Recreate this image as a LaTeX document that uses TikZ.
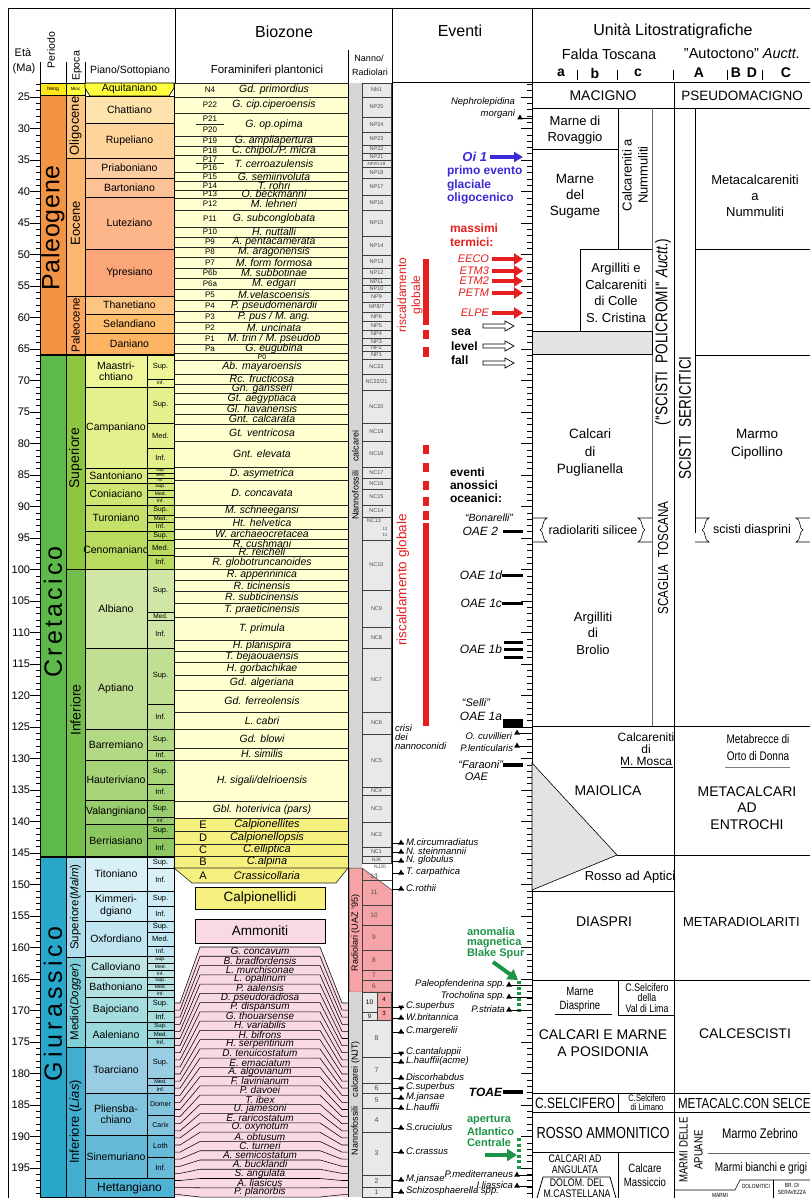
\documentclass[tikz,border=0pt]{standalone}
\usepackage{fontspec}
\setmainfont{Liberation Sans}
\newfontfamily\narrowf[FakeStretch=0.8]{Liberation Sans}
\usetikzlibrary{arrows.meta}
\newcommand\myfs[1]{\fontsize{#1}{#1}\selectfont}
\newcommand\myfsl[2]{\fontsize{#1}{#2}\selectfont}
\definecolor{cPg}{HTML}{F39445}
\definecolor{cNg}{HTML}{FFE619}
\definecolor{cOli}{HTML}{FDC582}
\definecolor{cEoc}{HTML}{FDB66E}
\definecolor{cPal}{HTML}{FDA760}
\definecolor{cAqu}{HTML}{FFFF40}
\definecolor{cCha}{HTML}{FEE3AD}
\definecolor{cRup}{HTML}{FED49C}
\definecolor{cPri}{HTML}{FDCDA1}
\definecolor{cBar}{HTML}{FCC195}
\definecolor{cLut}{HTML}{FCB68A}
\definecolor{cYpr}{HTML}{FBA679}
\definecolor{cTha}{HTML}{FDC482}
\definecolor{cSel}{HTML}{FEBE6E}
\definecolor{cDan}{HTML}{FDB462}
\definecolor{cK}{HTML}{5CB94A}
\definecolor{cKs}{HTML}{8DC741}
\definecolor{cKi}{HTML}{74BF4B}
\definecolor{cMaa}{HTML}{EEF698}
\definecolor{cCam}{HTML}{E4F08C}
\definecolor{cSan}{HTML}{DAEB80}
\definecolor{cCon}{HTML}{D0E674}
\definecolor{cTur}{HTML}{C5E169}
\definecolor{cCen}{HTML}{B9DB5F}
\definecolor{cAlb}{HTML}{CFE6A4}
\definecolor{cApt}{HTML}{C1DF93}
\definecolor{cBrm}{HTML}{B4D985}
\definecolor{cHau}{HTML}{A7D379}
\definecolor{cVal}{HTML}{9ACD6D}
\definecolor{cBer}{HTML}{8CC762}
\definecolor{cJ}{HTML}{29A7CB}
\definecolor{cJs}{HTML}{AEDDEB}
\definecolor{cJm}{HTML}{7ECFD8}
\definecolor{cJi}{HTML}{43AED0}
\definecolor{cTit}{HTML}{DAF0F7}
\definecolor{cKim}{HTML}{CDEBF4}
\definecolor{cOxf}{HTML}{BFE6F1}
\definecolor{cCal}{HTML}{BFE6E4}
\definecolor{cBat}{HTML}{B2E1E1}
\definecolor{cBaj}{HTML}{A6DDDF}
\definecolor{cAal}{HTML}{99D8DC}
\definecolor{cToa}{HTML}{99CDE3}
\definecolor{cPli}{HTML}{80C4DD}
\definecolor{cSin}{HTML}{67BBD8}
\definecolor{cHet}{HTML}{4EB3D3}
\definecolor{cFor}{HTML}{FFFFCF}
\definecolor{cCalp}{HTML}{F6F07E}
\definecolor{cAmm}{HTML}{FADAE2}
\definecolor{cNan}{HTML}{E9E9E9}
\definecolor{cStrip}{HTML}{D6D6D6}
\definecolor{cRad}{HTML}{F5A3A6}
\definecolor{cRed}{HTML}{E3201F}
\definecolor{cBlue}{HTML}{3B2BD6}
\definecolor{cGreen}{HTML}{1E9447}
\definecolor{cGray}{HTML}{E3E3E3}
\tikzset{
  every node/.style={inner sep=0pt,outer sep=0pt},
  bx/.style={draw=black,line width=0.6pt},
  zl/.style={draw=black!85,line width=0.6pt},
  stgt/.style={font=\myfsl{10.5}{11.5},align=center},
  codet/.style={font=\myfs{8}},
  spt/.style={font=\myfs{10.5}\itshape},
  ammt/.style={font=\myfs{10}\itshape},
  evt/.style={font=\myfs{9.5}\itshape},
  lit/.style={font=\myfsl{13}{16},align=center},
  redarr/.style={draw=cRed,line width=4pt,-{Triangle[length=9pt,width=11pt]}},
  grnarr/.style={draw=cGreen,line width=4pt,-{Triangle[length=10pt,width=12pt]}},
  bluarr/.style={draw=cBlue,line width=3.5pt,-{Triangle[length=9pt,width=10pt]}},
  grndot/.style={draw=cGreen,line width=3.5pt,dash pattern=on 3pt off 2.5pt},
}
\newcommand\stg[5]{\filldraw[fill=#3,bx] (85,#1) rectangle (#5,#2); \node[stgt] at ({(85+#5)/2},{(#1+#2)/2}) {#4};}
\newcommand\sbd[5][7.5]{\filldraw[fill=#4,bx] (147,#2) rectangle (174,#3); \node[font=\myfs{#1}] at (160.5,{(#2+#3)/2}) {#5};}
\newcommand\fzc[4]{\draw[zl] (174,#2) -- (348,#2); \node[codet] at (210,{(#1+#2)/2}) {#3}; \node[spt] at (274,{(#1+#2)/2}) {#4};}
\newcommand\fzk[3]{\draw[zl] (174,#2) -- (348,#2); \node[spt] at (262,{(#1+#2)/2}) {#3};}
\newcommand\nb[4][5.5]{\filldraw[fill=cNan,draw=black!75,line width=0.5pt] (362,#2) rectangle (391,#3); \node[font=\myfs{#1},text=black!70] at (376.5,{(#2+#3)/2}) {#4};}
\newcommand\trup[2]{\fill (#1-2.8,#2+1.5) -- (#1+2.8,#2+1.5) -- (#1,#2-3.5) -- cycle;}
\newcommand\trdn[2]{\fill (#1-2.8,#2-1.5) -- (#1+2.8,#2-1.5) -- (#1,#2+3.5) -- cycle;}
\newcommand\lmark[2]{\draw[line width=0.7pt] (392,#1) -- (404,#1); \trup{401}{#1} \node[evt,anchor=west] at (406,#1-1) {#2};}
\newcommand\lmarkd[2]{\draw[line width=0.7pt] (392,#1) -- (404,#1); \trdn{401}{#1} \node[evt,anchor=west] at (406,#1-1) {#2};}
\newcommand\rmark[3]{\draw[line width=0.7pt] (#1,#2) -- (532,#2); \trup{#1}{#2} \node[evt,anchor=east] at (#1-4,#2-1) {#3};}
\newcommand\harrow[3]{\draw[line width=0.7pt,fill=white] (#1,#3-2) -- (#2-9,#3-2) -- (#2-9,#3-5) -- (#2,#3) -- (#2-9,#3+5) -- (#2-9,#3+2) -- (#1,#3+2) -- cycle;}
\begin{document}
\begin{tikzpicture}[x=1pt,y=-1pt]
\useasboundingbox (0,0) rectangle (810,1198);
\fill[white] (0,0) rectangle (810,1198);

% ---------------- header ----------------
\draw[line width=0.8pt] (8,1198) -- (8,8) -- (810,8);
\draw[line width=0.8pt] (175,8) -- (175,83);
\draw[line width=0.6pt] (40,62) -- (40,83);
\draw[line width=0.6pt] (66,62) -- (66,83);
\draw[line width=0.6pt] (85,62) -- (85,83);
\draw[line width=0.6pt] (348,50) -- (348,83);
\draw[line width=0.8pt] (392,82) -- (810,82);
\node[font=\myfs{11}] (eta) at (23,53) {Età};
\node[font=\myfs{11}] (ma) at (24,69) {(Ma)};
\node[font=\myfs{10.5},rotate=90] (per) at (51,50) {Periodo};
\node[font=\myfs{10.5},rotate=90] (epo) at (77,66) {Epoca};
\node[font=\myfs{10.5}] (pia) at (130,71) {Piano/Sottopiano};
\node[font=\myfs{16}] (bio) at (284,32) {Biozone};
\node[font=\myfs{11.5}] (fora) at (267,71) {Foraminiferi plantonici};
\node[font=\myfs{9}] (nan1) at (369,58) {Nanno/};
\node[font=\myfs{9}] (nan2) at (370,72) {Radiolari};
\node[font=\myfs{16}] (eve) at (460,31) {Eventi};
\node[font=\myfs{16}] (uni) at (673,31) {Unità Litostratigrafiche};
\node[font=\myfs{14.5}] (fal) at (609,54) {Falda Toscana};
\node[font=\myfs{14.5}] (aut) at (742,54) {''Autoctono'' \textit{Auctt.}};
\node[font=\bfseries\myfs{14}] at (561,73) {a};
\node[font=\bfseries\myfs{14}] at (595,73) {b};
\node[font=\bfseries\myfs{14}] at (638,73) {c};
\node[font=\bfseries\myfs{14}] at (699,73) {A};
\node[font=\bfseries\myfs{14}] at (736,73) {B};
\node[font=\bfseries\myfs{14}] at (752,73) {D};
\node[font=\bfseries\myfs{14}] at (786,73) {C};
\foreach \xx in {577,617,673,727,762} {\draw[line width=0.7pt] (\xx,70) -- (\xx,80);}

% ---------------- age axis ----------------
\foreach \a in {23,...,199} {\pgfmathsetmacro\yy{97+(\a-25)*6.3}
  \draw[line width=0.5pt] (36,\yy) -- (40,\yy);
  \draw[line width=0.5pt] (527,\yy) -- (532,\yy);}
\foreach \a in {25,30,...,195} {\pgfmathsetmacro\yy{97+(\a-25)*6.3}
  \draw[line width=0.8pt] (30,\yy) -- (40,\yy);
  \draw[line width=0.8pt] (521,\yy) -- (532,\yy);
  \node[anchor=east,font=\myfs{11}] at (30,\yy) {\a};}

% ---------------- periods & epochs ----------------
\filldraw[fill=cNg,bx] (40,83) rectangle (66,95); \node[font=\myfs{5}] at (53,89) {Neog};
\filldraw[fill=cPg,bx] (40,95) rectangle (66,355); \node[rotate=90,font=\myfs{25}\addfontfeatures{LetterSpace=3}] at (53,228) {Paleogene};
\filldraw[fill=cK,bx] (40,355) rectangle (66,857); \node[rotate=90,font=\myfs{25}\addfontfeatures{LetterSpace=13}] at (53,612) {Cretacico};
\filldraw[fill=cJ,bx] (40,857) rectangle (66,1197); \node[rotate=90,font=\myfs{25}\addfontfeatures{LetterSpace=16}] at (53,1004) {Giurassico};
\filldraw[fill=cAqu,bx] (66,83) rectangle (85,95); \node[font=\myfs{4.5}] at (75.5,89) {Mioc};
\filldraw[fill=cOli,bx] (66,95) rectangle (85,158); \node[rotate=90,font=\myfs{13}] at (75.5,126) {Oligocene};
\filldraw[fill=cEoc,bx] (66,158) rectangle (85,296); \node[rotate=90,font=\myfs{13}] at (75.5,223) {Eocene};
\filldraw[fill=cPal,bx] (66,296) rectangle (85,355); \node[rotate=90,font=\myfs{11.5}] at (75.5,325) {Paleocene};
\filldraw[fill=cKs,bx] (66,355) rectangle (85,569); \node[rotate=90,font=\myfs{14}] at (75.5,458) {Superiore};
\filldraw[fill=cKi,bx] (66,569) rectangle (85,857); \node[rotate=90,font=\myfs{14}] at (75.5,710) {Inferiore};
\filldraw[fill=cJs,bx] (66,857) rectangle (85,957); \node[rotate=90,font=\myfs{11.5}] at (75.5,907) {Superiore(\textit{Malm})};
\filldraw[fill=cJm,bx] (66,957) rectangle (85,1047); \node[rotate=90,font=\myfs{11.5}] at (75.5,1002) {Medio(\textit{Dogger})};
\filldraw[fill=cJi,bx] (66,1047) rectangle (85,1197); \node[rotate=90,font=\myfs{13}] at (75.5,1122) {Inferiore (\textit{Lias})};

% ---------------- stages ----------------
\filldraw[fill=cAqu,bx] (85,83) -- (174,83) -- (174,88) -- (169,96) -- (90,96) -- (85,88) -- cycle;
\node[font=\myfs{10.5}] at (129.5,89) {Aquitaniano};
\stg{96}{123}{cCha}{Chattiano}{174}
\stg{123}{158}{cRup}{Rupeliano}{174}
\stg{158}{178}{cPri}{Priaboniano}{174}
\stg{178}{197}{cBar}{Bartoniano}{174}
\stg{197}{249}{cLut}{Luteziano}{174}
\stg{249}{296}{cYpr}{Ypresiano}{174}
\stg{296}{314}{cTha}{Thanetiano}{174}
\stg{314}{333}{cSel}{Selandiano}{174}
\stg{333}{355}{cDan}{Daniano}{174}
\stg{355}{387}{cMaa}{Maastri-\\chtiano}{147}
\sbd{355}{379}{cMaa}{Sup.} \sbd[5]{379}{387}{cMaa}{Inf.}
\stg{387}{468}{cCam}{Campaniano}{147}
\sbd{387}{423}{cCam}{Sup.} \sbd{423}{448}{cCam}{Med.} \sbd{448}{468}{cCam}{Inf.}
\stg{468}{483}{cSan}{Santoniano}{147}
\sbd[4]{468}{473}{cSan}{Sup.} \sbd[4]{473}{478}{cSan}{Med.} \sbd[4]{478}{483}{cSan}{Inf.}
\stg{483}{505}{cCon}{Coniaciano}{147}
\sbd[5]{483}{490}{cCon}{Sup.} \sbd[5]{490}{497}{cCon}{Med.} \sbd[5]{497}{505}{cCon}{Inf.}
\stg{505}{531}{cTur}{Turoniano}{147}
\sbd[7]{505}{515}{cTur}{Sup.} \sbd[6]{515}{522}{cTur}{Med.} \sbd[6.5]{522}{531}{cTur}{Inf.}
\stg{531}{569}{cCen}{Cenomaniano}{147}
\sbd[7]{531}{540}{cCen}{Sup.} \sbd{540}{555}{cCen}{Med.} \sbd{555}{569}{cCen}{Inf.}
\stg{569}{648}{cAlb}{Albiano}{147}
\sbd{569}{612}{cAlb}{Sup.} \sbd[6.5]{612}{620}{cAlb}{Med.} \sbd{620}{648}{cAlb}{Inf.}
\stg{648}{729}{cApt}{Aptiano}{147}
\sbd{648}{704}{cApt}{Sup.} \sbd{704}{729}{cApt}{Inf.}
\stg{729}{760}{cBrm}{Barremiano}{147}
\sbd{729}{750}{cBrm}{Sup.} \sbd[7]{750}{760}{cBrm}{Inf.}
\stg{760}{800}{cHau}{Hauteriviano}{147}
\sbd{760}{784}{cHau}{Sup.} \sbd{784}{800}{cHau}{Inf.}
\stg{800}{824}{cVal}{Valanginiano}{147}
\sbd{800}{817}{cVal}{Sup.} \sbd[5]{817}{824}{cVal}{Inf.}
\stg{824}{857}{cBer}{Berriasiano}{147}
\sbd{824}{838}{cBer}{Sup.} \sbd{838}{857}{cBer}{Inf.}
\stg{857}{891}{cTit}{Titoniano}{147}
\sbd{857}{868}{cTit}{Sup.} \sbd{868}{891}{cTit}{Inf.}
\stg{891}{921}{cKim}{Kimmeri-\\dgiano}{147}
\sbd{891}{906}{cKim}{Sup.} \sbd{906}{921}{cKim}{Inf.}
\stg{921}{956}{cOxf}{Oxfordiano}{147}
\sbd{921}{932}{cOxf}{Sup.} \sbd{932}{946}{cOxf}{Med.} \sbd[6.5]{946}{956}{cOxf}{Inf.}
\stg{956}{977}{cCal}{Calloviano}{147}
\sbd[5]{956}{963}{cCal}{Sup.} \sbd[5]{963}{970}{cCal}{Med.} \sbd[5]{970}{977}{cCal}{Inf.}
\stg{977}{997}{cBat}{Bathoniano}{147}
\sbd[5]{977}{984}{cBat}{Sup.} \sbd[5]{984}{990}{cBat}{Med.} \sbd[5]{990}{997}{cBat}{Inf.}
\stg{997}{1022}{cBaj}{Bajociano}{147}
\sbd{997}{1011}{cBaj}{Sup.} \sbd{1011}{1022}{cBaj}{Inf.}
\stg{1022}{1047}{cAal}{Aaleniano}{147}
\sbd[6]{1022}{1030}{cAal}{Sup.} \sbd[6]{1030}{1038}{cAal}{Med.} \sbd[6]{1038}{1047}{cAal}{Inf.}
\stg{1047}{1093}{cToa}{Toarciano}{147}
\sbd{1047}{1078}{cToa}{Sup.} \sbd[5.5]{1078}{1085}{cToa}{Med.} \sbd[5.5]{1085}{1093}{cToa}{Inf.}
\stg{1093}{1135}{cPli}{Pliensba-\\chiano}{147}
\sbd[7]{1093}{1115}{cPli}{Domer} \sbd[7]{1115}{1135}{cPli}{Carix}
\stg{1135}{1178}{cSin}{Sinemuriano}{147}
\sbd{1135}{1157}{cSin}{Loth} \sbd{1157}{1178}{cSin}{Inf.}
\filldraw[fill=cHet,bx] (85,1178) rectangle (174,1197);
\node[font=\myfs{12}] at (129.5,1188) {Hettangiano};
\draw[line width=1.3pt] (40,355) -- (174,355);
\draw[line width=1.3pt] (40,857) -- (174,857);

% ---------------- foram biozones ----------------
\fill[cFor] (174,83) rectangle (348,818);
\draw[zl] (174,83) -- (348,83);
\fzc{83}{97}{N4}{Gd. primordius}
\fzc{97}{113}{P22}{G. cip.ciperoensis}
\fzc{113}{136}{}{G. op.opima}
\node[codet] at (210,118.5) {P21}; \node[codet] at (210,130) {P20}; \draw[zl] (196,124) -- (224,124);
\fzc{136}{146}{P19}{G. ampliapertura}
\fzc{146}{155}{P18}{C. chipol./P. micra}
\fzc{155}{172}{}{T. cerroazulensis}
\node[codet] at (210,159.5) {P17}; \node[codet] at (210,167.5) {P16}; \draw[zl] (196,163.5) -- (224,163.5);
\fzc{172}{181}{P15}{G. semiinvoluta}
\fzc{181}{190}{P14}{T. rohri}
\fzc{190}{198}{P13}{O. beckmanni}
\fzc{198}{210}{P12}{M. lehneri}
\fzc{210}{227}{P11}{G. subconglobata}
\fzc{227}{237}{P10}{H. nuttalli}
\fzc{237}{247}{P9}{A. pentacamerata}
\fzc{247}{257}{P8}{M. aragonensis}
\fzc{257}{268}{P7}{M. form formosa}
\fzc{268}{278}{P6b}{M. subbotinae}
\fzc{278}{289}{P6a}{M. edgari}
\fzc{289}{300}{P5}{M.velascoensis}
\fzc{300}{311}{P4}{P. pseudomenardii}
\fzc{311}{322}{P3}{P. pus / M. ang.}
\fzc{322}{333}{P2}{M. uncinata}
\fzc{333}{344}{P1}{M. trin / M. pseudob}
\fzc{344}{353}{Pa}{G. eugubina}
\draw[zl] (174,360) -- (348,360); \node[font=\myfs{7}] at (262,357) {P0};
\fzk{360}{374}{Ab. mayaroensis}
\fzk{374}{384}{Rc. fructicosa}
\fzk{384}{393}{Gn. gansseri}
\fzk{393}{404}{Gt. aegyptiaca}
\fzk{404}{414}{Gl. havanensis}
\fzk{414}{424}{Gnt. calcarata}
\fzk{424}{441}{Gt. ventricosa}
\fzk{441}{467}{Gnt. elevata}
\fzk{467}{480}{D. asymetrica}
\fzk{480}{505}{D. concavata}
\fzk{505}{517}{M. schneegansi}
\fzk{517}{529}{Ht. helvetica}
\fzk{529}{539}{W. archaeocretacea}
\fzk{539}{548}{R. cushmani}
\fzk{548}{556}{R. reicheli}
\fzk{556}{569}{R. globotruncanoides}
\fzk{569}{580}{R. appenninica}
\fzk{580}{591}{R. ticinensis}
\fzk{591}{603}{R. subticinensis}
\fzk{603}{617}{T. praeticinensis}
\fzk{617}{640}{T. primula}
\fzk{640}{651}{H. planispira}
\fzk{651}{662}{T. bejaouaensis}
\fzk{662}{675}{H. gorbachikae}
\fzk{675}{690}{Gd. algeriana}
\fzk{690}{712}{Gd. ferreolensis}
\fzk{712}{729}{L. cabri}
\fzk{729}{748}{Gd. blowi}
\fzk{748}{760}{H. similis}
\fzk{760}{801}{H. sigali/delrioensis}
\fzk{801}{818}{Gbl. hoterivica (pars)}
% calpionellids
\filldraw[fill=cCalp,zl] (174,818) rectangle (348,868);
\filldraw[fill=cCalp,zl] (174,868) -- (348,868) -- (336,883) -- (192,883) -- cycle;
\foreach \yy in {831,844,856} {\draw[zl] (174,\yy) -- (348,\yy);}
\foreach \yy/\l/\s in {824.5/E/Calpionellites,837.5/D/Calpionellopsis,850/C/C.elliptica,862/B/C.alpina,875.5/A/Crassicollaria}
  {\node[font=\myfs{11}] at (203,\yy) {\l}; \node[font=\myfs{11}\itshape] at (267,\yy) {\s};}
\filldraw[fill=cCalp,bx] (195,887) rectangle (325,909); \node[font=\myfs{13.5}] at (260,898) {Calpionellidi};
\filldraw[fill=cAmm,bx] (195,919) rectangle (325,943); \node[font=\myfs{13.5}] at (260,931) {Ammoniti};
% ammonites
\fill[cAmm] (174,1003) -- (180,1003) -- (200,947) -- (320,947) -- (342,1003) -- (348,1003) -- (348,1197) -- (174,1197) -- cycle;
\foreach \i in {0,...,27} {\pgfmathsetmacro\yc{947+\i*9.26}\pgfmathsetmacro\ye{1003+\i*7.1}
  \draw[line width=0.55pt] (174,\ye) -- (180,\ye) -- (200,\yc) -- (320,\yc) -- (342,\ye) -- (348,\ye);}
\foreach \n [count=\i from 0] in {G. concavum,B. bradfordensis,L. murchisonae,L. opalinum,P. aalensis,D. pseudoradiosa,P. dispansum,G. thouarsense,H. variabilis,H. bifrons,H. serpentinum,D. tenuicostatum,E. emaciatum,A. algovianum,F. lavinianum,P. davoei,T. ibex,U. jamesoni,E. raricostatum,O. oxynotum,A. obtusum,C. turneri,A. semicostatum,A. bucklandi,S. angulata,A. liasicus,P. planorbis}
  {\pgfmathsetmacro\yc{947+\i*9.26+4.3}\node[ammt] at (260,\yc) {\n};}
\draw[line width=0.8pt] (174,83) -- (174,1197);
\draw[line width=0.8pt] (348,83) -- (348,1197);

% ---------------- nanno / radiolari ----------------
\fill[cStrip] (349,83) rectangle (362,868);
\node[rotate=90,font=\myfs{9}] at (355.5,475) {Nannofossili\quad calcarei};
\nb{83}{97}{NN1} \nb{97}{117}{NP25} \nb{117}{132}{NP24} \nb{132}{145}{NP23}
\nb{145}{153}{NP22} \nb{153}{160}{NP21} \nb[4.5]{160}{167}{NP20-19} \nb{167}{178}{NP18}
\nb{178}{195}{NP17} \nb{195}{210}{NP16} \nb{210}{236}{NP15} \nb{236}{255}{NP14}
\nb{255}{268}{NP13} \nb{268}{278}{NP12} \nb{278}{285}{NP11} \nb{285}{292}{NP10}
\nb{292}{302}{NP9} \nb{302}{312}{NP8/7} \nb{312}{321}{NP6} \nb{321}{330}{NP5}
\nb{330}{338}{NP4} \nb{338}{345}{NP3} \nb{345}{351}{NP2} \nb{351}{359}{NP1}
\nb{359}{374}{NC23} \nb{374}{390}{NC22/21} \nb{390}{423}{NC20} \nb{423}{441}{NC19}
\nb{441}{467}{NC18} \nb{467}{478}{NC17} \nb{478}{489}{NC16} \nb{489}{505}{NC15}
\nb{505}{517}{NC14} \nb{517}{540}{} \node[font=\myfs{5.5},text=black!70] at (374,521) {NC13};
\node[font=\myfs{4.5},text=black!70] at (385,529) {12}; \node[font=\myfs{4.5},text=black!70] at (385,535) {11};
\nb{540}{590}{NC10} \nb{590}{627}{NC9} \nb{627}{648}{NC8} \nb{648}{712}{NC7}
\nb{712}{734}{NC6} \nb{734}{787}{NC5} \nb{787}{795}{NC4} \nb{795}{822}{NC3}
\nb{822}{847}{NC2} \nb{847}{856}{NC1} \nb[5]{856}{863}{NJK}
\node[font=\myfs{5},text=black!70] at (380,867) {NJ20};
% radiolari
\filldraw[fill=cRad,draw=black!75,line width=0.5pt] (349,868) -- (362,868) -- (392,890) -- (392,992) -- (349,992) -- cycle;
\draw[line width=0.5pt,draw=black!75] (362,868) -- (362,992);
\foreach \yy in {880,905,925,950,970,980} {\draw[line width=0.5pt,draw=black!75] (362,\yy) -- (392,\yy);}
\node[rotate=90,font=\myfs{9}] at (355.5,933) {Radiolari (UAZ '95)};
\foreach \yy/\l in {876/13,892.5/11,915/10,937.5/9,960/8,975/7,986/6} {\node[font=\myfs{6.5},text=black!70] at (374,\yy) {\l};}
% NJT
\fill[cStrip] (349,992) rectangle (362,1197);
\node[rotate=90,font=\myfs{9}] at (355.5,1098) {Nannofossili\quad calcarei (NJT)};
\filldraw[fill=cNan,draw=black!75,line width=0.5pt] (362,992) rectangle (377,1012); \node[font=\myfs{6.5}] at (369.5,1002) {10};
\filldraw[fill=cNan,draw=black!75,line width=0.5pt] (362,1012) rectangle (377,1020); \node[font=\myfs{6}] at (369.5,1016) {9};
\filldraw[fill=cRad,draw=black!75,line width=0.5pt] (377,992) rectangle (391,1007); \node[font=\myfs{6}] at (384,999.5) {4};
\filldraw[fill=cRad,draw=black!75,line width=0.5pt] (377,1007) rectangle (391,1020); \node[font=\myfs{6}] at (384,1013.5) {3};
\nb[7]{1020}{1057}{8} \nb[7]{1057}{1083}{7} \nb[7]{1083}{1093}{6} \nb[7]{1093}{1108}{5}
\nb[7]{1108}{1132}{4} \nb[7]{1132}{1175}{3} \nb[7]{1175}{1187}{2} \nb[7]{1187}{1197}{1}

% ---------------- eventi ----------------
\node[evt,anchor=east] at (515,102) {Nephrolepidina};
\node[evt,anchor=east] at (515,114) {morgani};
\draw[line width=0.7pt] (520,118) -- (532,118); \trup{520}{118}
\node[font=\bfseries\itshape\myfs{13},text=cBlue,anchor=east] at (487,157) {Oi 1};
\draw[bluarr] (490,157) -- (523,157);
\node[font=\bfseries\myfs{12},text=cBlue,anchor=west] at (447,171) {primo evento};
\node[font=\bfseries\myfs{12},text=cBlue,anchor=west] at (447,185) {glaciale};
\node[font=\bfseries\myfs{12},text=cBlue,anchor=west] at (447,198) {oligocenico};
\node[font=\bfseries\myfs{12},text=cRed,anchor=west] at (450,228) {massimi};
\node[font=\bfseries\myfs{12},text=cRed,anchor=west] at (450,242) {termici:};
\foreach \yy/\l in {259/EECO,271/ETM3,281/ETM2,293/PETM,313/ELPE}
  {\node[font=\itshape\myfs{11},text=cRed,anchor=east] at (489,\yy) {\l}; \draw[redarr] (492,\yy) -- (523,\yy);}
\harrow{483}{514}{326} \harrow{483}{514}{346} \harrow{483}{514}{363}
\node[font=\bfseries\myfs{12},anchor=west] at (451,332) {sea};
\node[font=\bfseries\myfs{12},anchor=west] at (451,346) {level};
\node[font=\bfseries\myfs{12},anchor=west] at (451,360) {fall};
\node[rotate=90,font=\myfsl{12}{14},text=cRed,align=center] at (410,295) {riscaldamento\\globale};
\fill[cRed] (423,259) rectangle (429,325);
\fill[cRed] (423,330) rectangle (429,339);
\fill[cRed] (423,347) rectangle (429,357);
\node[rotate=90,font=\myfs{13.5},text=cRed] at (403,580) {riscaldamento globale};
\foreach \ya/\yb in {445/454,463/472,481/490,497/506,511/520} {\fill[cRed] (423,\ya) rectangle (429,\yb);}
\fill[cRed] (423,523) rectangle (429,726);
\node[font=\bfseries\myfs{12},anchor=west] at (450,472) {eventi};
\node[font=\bfseries\myfs{12},anchor=west] at (450,485) {anossici};
\node[font=\bfseries\myfs{12},anchor=west] at (450,498) {oceanici:};
\node[font=\itshape\myfs{10.5},anchor=east] at (513,518) {“Bonarelli”};
\node[font=\itshape\myfs{12},anchor=east] at (498,531) {OAE 2};
\fill (503,529.5) rectangle (523,533);
\node[font=\itshape\myfs{12},anchor=east] at (502,575) {OAE 1d};
\fill (502,573.5) rectangle (523,576.5);
\node[font=\itshape\myfs{12},anchor=east] at (502,603) {OAE 1c};
\fill (502,601.5) rectangle (523,604.5);
\node[font=\itshape\myfs{12},anchor=east] at (502,649) {OAE 1b};
\foreach \yy in {642,649,657} {\fill (504,\yy-1.5) rectangle (523,\yy+1.5);}
\node[font=\itshape\myfs{11},anchor=east] at (490,703) {“Selli”};
\node[font=\itshape\myfs{12},anchor=east] at (502,716) {OAE 1a};
\fill (503,719) rectangle (523,728);
\node[font=\itshape\myfs{9.5},anchor=west] at (395,728) {crisi};
\node[font=\itshape\myfs{9.5},anchor=west] at (395,737) {dei};
\node[font=\itshape\myfs{9.5},anchor=west] at (395,746) {nannoconidi};
\draw[line width=0.7pt] (517,733) -- (532,733); \trup{517}{733}
\node[evt,anchor=east] at (512,736) {O. cuvillieri};
\draw[line width=0.7pt] (517,746) -- (532,746); \trup{517}{746}
\node[evt,anchor=east] at (513,748) {P.lenticularis};
\node[font=\itshape\myfs{11},anchor=east] at (503,765) {“Faraoni”};
\node[font=\itshape\myfs{11},anchor=east] at (488,777) {OAE};
\fill (503,763) rectangle (523,767);
\lmark{843}{M.circumradiatus}
\lmark{852}{N. steinmannii}
\lmark{861}{N. globulus}
\lmark{873}{T. carpathica}
\lmark{889}{C.rothii}
% jurassic events
\node[font=\bfseries\myfs{11},text=cGreen,anchor=west] at (467,932) {anomalia};
\node[font=\bfseries\myfs{11},text=cGreen,anchor=west] at (467,943) {magnetica};
\node[font=\bfseries\myfs{11},text=cGreen,anchor=west] at (467,954) {Blake Spur};
\draw[grnarr] (493,962) -- (518,980);
\draw[grndot] (519,981) -- (519,1013);
\rmark{509}{985}{Paleopfenderina spp.}
\rmark{509}{997}{Trocholina spp.}
\rmark{509}{1010}{P.striata}
\lmarkd{1007}{C.superbus}
\lmark{1018}{W.britannica}
\lmark{1032}{C.margerelii}
\lmarkd{1053}{C.cantaluppii}
\lmark{1062}{L.hauffii(acme)}
\lmark{1078}{Discorhabdus}
\lmarkd{1088}{C.superbus}
\lmark{1098}{M.jansae}
\lmark{1108}{L.hauffii}
\lmark{1128}{S.cruciulus}
\lmark{1152}{C.crassus}
\lmark{1180}{M.jansae}
\lmark{1192}{Schizosphaerella spp.}
\node[font=\bfseries\itshape\myfs{12},anchor=east] at (502,1092) {TOAE};
\fill (503,1090) rectangle (523,1094);
\node[font=\bfseries\myfs{11},text=cGreen,anchor=west] at (467,1120) {apertura};
\node[font=\bfseries\myfs{11},text=cGreen,anchor=west] at (467,1132) {Atlantico};
\node[font=\bfseries\myfs{11},text=cGreen,anchor=west] at (467,1143) {Centrale};
\draw[grnarr] (485,1155) -- (517,1155);
\draw[grndot] (519,1138) -- (519,1170);
\rmark{517}{1175}{P.mediterraneus}
\rmark{517}{1186}{I.liassica}

% ---------------- litostratigrafia ----------------
\draw[line width=0.8pt] (392,8) -- (392,1198);
\draw[line width=0.8pt] (532,8) -- (532,1198);
\draw[bx] (532,108) -- (810,108);
\node[font=\myfs{14}] at (603,96) {MACIGNO};
\node[font=\myfs{13.5}] at (742,96) {PSEUDOMACIGNO};
\draw[bx] (532,149) -- (618,149);
\draw[bx] (618,108) -- (618,249);
\draw[line width=0.6pt,draw=black!60] (652,108) -- (652,726);
\draw[bx] (580,249) -- (652,249);
\draw[bx] (580,249) -- (580,331);
\filldraw[fill=cGray,bx] (532,331) rectangle (652,354);
\draw[line width=0.9pt] (674,82) -- (674,1198);
\draw[bx] (695,108) -- (695,533);
\draw[bx] (695,249) -- (810,249);
\draw[bx] (695,355) -- (810,355);
\node[lit] at (575,130) {Marne di\\Rovaggio};
\node[lit,rotate=90] at (635,175) {Calcareniti a\\Nummuliti};
\node[lit,font=\myfsl{13.5}{16}] at (575,196) {Marne\\del\\Sugame};
\node[lit,font=\myfsl{13}{16.7}] at (616,293) {Argilliti e\\Calcareniti\\di Colle\\S. Cristina};
\node[lit] at (755,196) {Metacalcareniti\\a\\Nummuliti};
\node[rotate=90,font=\narrowf\myfs{17}] at (663,332) {(''SCISTI\enspace POLICROMI'' \textit{Auctt.})};
\node[rotate=90,font=\narrowf\myfs{14.5}] at (663,558) {SCAGLIA\enspace TOSCANA};
\node[rotate=90,font=\narrowf\myfs{17}] at (685,418) {SCISTI\enspace SERICITICI};
\node[lit,font=\myfsl{13.5}{17.5}] at (590,453) {Calcari\\di\\Puglianella};
\node[lit,font=\myfsl{13.5}{18}] at (757,444) {Marmo\\Cipollino};
% braces
\draw[line width=0.6pt] (533,518) -- (547,518) .. controls (542,519) and (544,529) .. (540,530) .. controls (544,531) and (542,541) .. (547,542) -- (533,542);
\draw[line width=0.6pt] (652,518) -- (638,518) .. controls (643,519) and (641,529) .. (645,530) .. controls (641,531) and (643,541) .. (638,542) -- (652,542);
\node[font=\myfs{12.5}] at (593,530) {radiolariti silicee};
\draw[line width=0.6pt] (695,518) -- (709,518) .. controls (704,519) and (706,529) .. (702,530) .. controls (706,531) and (704,541) .. (709,542) -- (695,542);
\draw[line width=0.6pt] (810,518) -- (796,518) .. controls (801,519) and (799,529) .. (803,530) .. controls (799,531) and (801,541) .. (796,542) -- (810,542);
\node[font=\myfs{12.5}] at (752,530) {scisti diasprini};
\node[lit,font=\myfsl{13}{16.5}] at (593,633) {Argilliti\\di\\Brolio};
\draw[bx] (532,726) -- (810,726);
\node[font=\myfsl{12}{12},align=center] at (646,749) {Calcareniti\\di\\M. Mosca};
\draw[line width=0.6pt] (621,767) -- (673,767);
\node[font=\narrowf\myfsl{12.5}{17},align=center] at (758,748) {Metabrecce di\\Orto di Donna};
\draw[line width=0.6pt,draw=black!50] (725,767) -- (790,767);
\filldraw[fill=cGray,bx] (532,763) -- (617,855) -- (532,890) -- cycle;
\node[font=\myfs{14}] at (608,791) {MAIOLICA};
\node[font=\myfsl{14}{16.5},align=center] at (747,808) {METACALCARI\\AD\\ENTROCHI};
\draw[bx] (617,855) -- (810,855);
\node[font=\myfs{13}] at (630,877) {Rosso ad Aptici};
\draw[bx] (532,891) -- (674,891);
\node[font=\myfs{14}] at (604,922) {DIASPRI};
\node[font=\myfs{13},anchor=west] at (683,922) {METARADIOLARITI};
\draw[bx] (532,980) -- (810,980);
\draw[bx] (618,980) -- (618,1015) -- (674,1015);
\node[font=\narrowf\myfsl{12}{14},align=center] at (580,1000) {Marne\\Diasprine};
\draw[line width=0.6pt] (555,1014) -- (612,1014);
\node[font=\narrowf\myfsl{11}{10.5},align=center] at (647,998) {C.Selcifero\\della\\Val di Lima};
\node[font=\myfsl{14}{17.5},align=center] at (603,1043) {CALCARI E MARNE\\A POSIDONIA};
\node[font=\myfs{14}] at (745,1034) {CALCESCISTI};
\draw[bx] (532,1093) -- (810,1093);
\draw[bx] (618,1093) -- (618,1112);
\node[font=\narrowf\myfs{15}] at (575,1103) {C.SELCIFERO};
\node[font=\narrowf\myfsl{9.5}{9},align=center] at (647,1103) {C.Selcifero\\di Limano};
\node[font=\narrowf\myfs{14.5},anchor=west] at (678,1103) {METACALC.CON SELCE};
\draw[bx] (532,1112) -- (810,1112);
\node[font=\narrowf\myfs{16}] at (603,1133) {ROSSO AMMONITICO};
\draw[bx] (532,1152) -- (674,1152);
\draw[bx] (618,1152) -- (618,1198);
\node[rotate=90,font=\narrowf\myfsl{12}{15},align=center] at (691,1150) {MARMI DELLE\\APUANE};
\node[font=\narrowf\myfs{14}] at (760,1133) {Marmo Zebrino};
\draw[line width=0.6pt,draw=black!60] (708,1153) -- (810,1153);
\node[font=\narrowf\myfs{12.5}] at (761,1168) {Marmi bianchi e grigi};
\node[font=\narrowf\myfsl{11}{11},align=center] at (575,1164) {CALCARI AD\\ANGULATA};
\draw[line width=0.8pt] (537,1198) -- (543,1177) -- (610,1177) -- (616,1198);
\node[font=\narrowf\myfsl{11}{11},align=center] at (577,1188) {DOLOM. DEL\\M.CASTELLANA};
\node[font=\narrowf\myfsl{12}{14},align=center] at (645,1175) {Calcare\\Massiccio};
\draw[line width=0.6pt] (674,1190) -- (735,1190) -- (740,1180) -- (810,1180);
\draw[line width=0.6pt] (773,1180) -- (773,1198);
\node[font=\narrowf\myfs{6}] at (720,1195) {MARMI};
\node[font=\narrowf\myfs{6}] at (756,1186) {DOLOMITICI};
\node[font=\narrowf\myfsl{6}{7},align=center] at (792,1189) {BR. DI\\SERAVEZZA};
\end{tikzpicture}
\end{document}
